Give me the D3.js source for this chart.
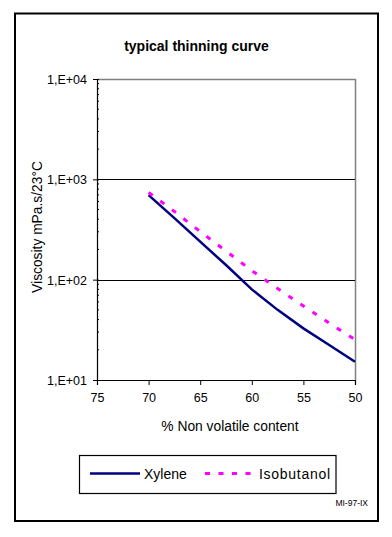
<!DOCTYPE html>
<html><head><meta charset="utf-8">
<script src="https://cdn.jsdelivr.net/npm/d3@7"></script>
<style>
html,body{margin:0;padding:0;background:#fff;}
svg{display:block;font-family:Arial,"Liberation Sans",sans-serif;}
</style></head>
<body>
<svg id="chart" width="392" height="537"></svg>
<script>
const nonVolatile = [70, 67.5, 65, 62.5, 60, 57.5, 55, 52.5, 50];
const xylene      = [697, 410, 239, 140, 80, 50, 32.7, 22.3, 15.2];
const isobutanol  = [740, 478, 302, 193, 123, 81.5, 54.6, 36.9, 25.3];
const xTicks = [75, 70, 65, 60, 55, 50];
const yTicks = [10, 100, 1000, 10000];
const yTickLabels = ["1,E+01", "1,E+02", "1,E+03", "1,E+04"];
const seriesNames = ["Xylene", "Isobutanol"];
const seriesColors = ["#000080", "#ff00ff"];

const svg = d3.select("#chart");
const L = 97, R = 355, T = 79, B = 380;
const x = d3.scaleLinear().domain([75, 50]).range([L, R]);
const y = d3.scaleLog().domain([10, 10000]).range([B, T]);

// outer frame
svg.append("rect").attr("x", 15).attr("y", 13.5).attr("width", 363).attr("height", 507.5)
  .attr("fill", "#fff").attr("stroke", "#000").attr("stroke-width", 2);

// title
svg.append("text").attr("x", 196.5).attr("y", 51).attr("text-anchor", "middle")
  .attr("font-size", 14).attr("font-weight", "bold").text("typical thinning curve");

// plot border (grey) top & right
svg.append("path").attr("d", `M${L},${T+0.5}H${R+0.5}V${B}`).attr("fill", "none")
  .attr("stroke", "#808080").attr("stroke-width", 1.5);

// gridlines
svg.append("g").selectAll("line").data([100, 1000]).join("line")
  .attr("x1", L).attr("x2", R).attr("y1", d => Math.round(y(d)) + 0.5).attr("y2", d => Math.round(y(d)) + 0.5)
  .attr("stroke", "#000").attr("stroke-width", 1);

// y axis
const yAxis = d3.axisLeft(y).tickValues(yTicks).tickFormat((d, i) => yTickLabels[i]).tickSize(4).tickPadding(6);
const gy = svg.append("g").attr("transform", `translate(${L},0)`).call(yAxis);
gy.select(".domain").attr("stroke", "#000").attr("stroke-width", 1.2);
gy.selectAll(".tick line").attr("x1", -4).attr("x2", 2).attr("stroke", "#000");
gy.selectAll(".tick text").attr("font-size", 12.5).attr("font-family", "Arial, 'Liberation Sans', sans-serif").attr("dy", "0.35em").attr("fill", "#000");
// minor ticks
const minor = [];
[10, 100, 1000].forEach(b => { for (let k = 2; k <= 9; k++) minor.push(b * k); });
svg.append("g").selectAll("line").data(minor).join("line")
  .attr("x1", L).attr("x2", L + 2).attr("y1", d => y(d)).attr("y2", d => y(d))
  .attr("stroke", "#000").attr("stroke-width", 1);

// x axis
const xAxis = d3.axisBottom(x).tickValues(xTicks).tickSize(5).tickPadding(8);
const gx = svg.append("g").attr("transform", `translate(0,${B})`).call(xAxis);
gx.select(".domain").attr("stroke", "#000").attr("stroke-width", 1.2);
gx.selectAll(".tick line").attr("stroke", "#000");
gx.selectAll(".tick text").attr("font-size", 12.5).attr("font-family", "Arial, 'Liberation Sans', sans-serif").attr("fill", "#000");

// axis titles
svg.append("text").attr("x", 230).attr("y", 431).attr("text-anchor", "middle")
  .attr("font-size", 13.8).text("% Non volatile content");
svg.append("text").attr("transform", "translate(41.5,227) rotate(-90)").attr("text-anchor", "middle")
  .attr("font-size", 13.8).text("Viscosity mPa.s/23°C");

// lines
const line = d3.line().x((d, i) => x(nonVolatile[i])).y(d => y(d));
svg.append("path").datum(xylene).attr("d", line).attr("fill", "none")
  .attr("stroke", seriesColors[0]).attr("stroke-width", 2.5);
svg.append("path").datum(isobutanol).attr("d", line).attr("fill", "none")
  .attr("stroke", seriesColors[1]).attr("stroke-width", 3).attr("stroke-dasharray", "5,9.5");

// legend
svg.append("rect").attr("x", 79.5).attr("y", 455.5).attr("width", 256.5).attr("height", 38)
  .attr("fill", "#fff").attr("stroke", "#000").attr("stroke-width", 1.2);
svg.append("line").attr("x1", 90).attr("x2", 140).attr("y1", 473.5).attr("y2", 473.5)
  .attr("stroke", seriesColors[0]).attr("stroke-width", 2.5);
svg.append("text").attr("x", 144).attr("y", 479).attr("font-size", 14).text(seriesNames[0]);
svg.append("line").attr("x1", 205).attr("x2", 256).attr("y1", 473.5).attr("y2", 473.5)
  .attr("stroke", seriesColors[1]).attr("stroke-width", 3).attr("stroke-dasharray", "5,8.5");
svg.append("text").attr("x", 259).attr("y", 479).attr("font-size", 14).attr("textLength", 71).text(seriesNames[1]);

// code
svg.append("text").attr("x", 368).attr("y", 506).attr("text-anchor", "end")
  .attr("font-size", 8.5).text("MI-97-IX");
</script>
</body></html>
